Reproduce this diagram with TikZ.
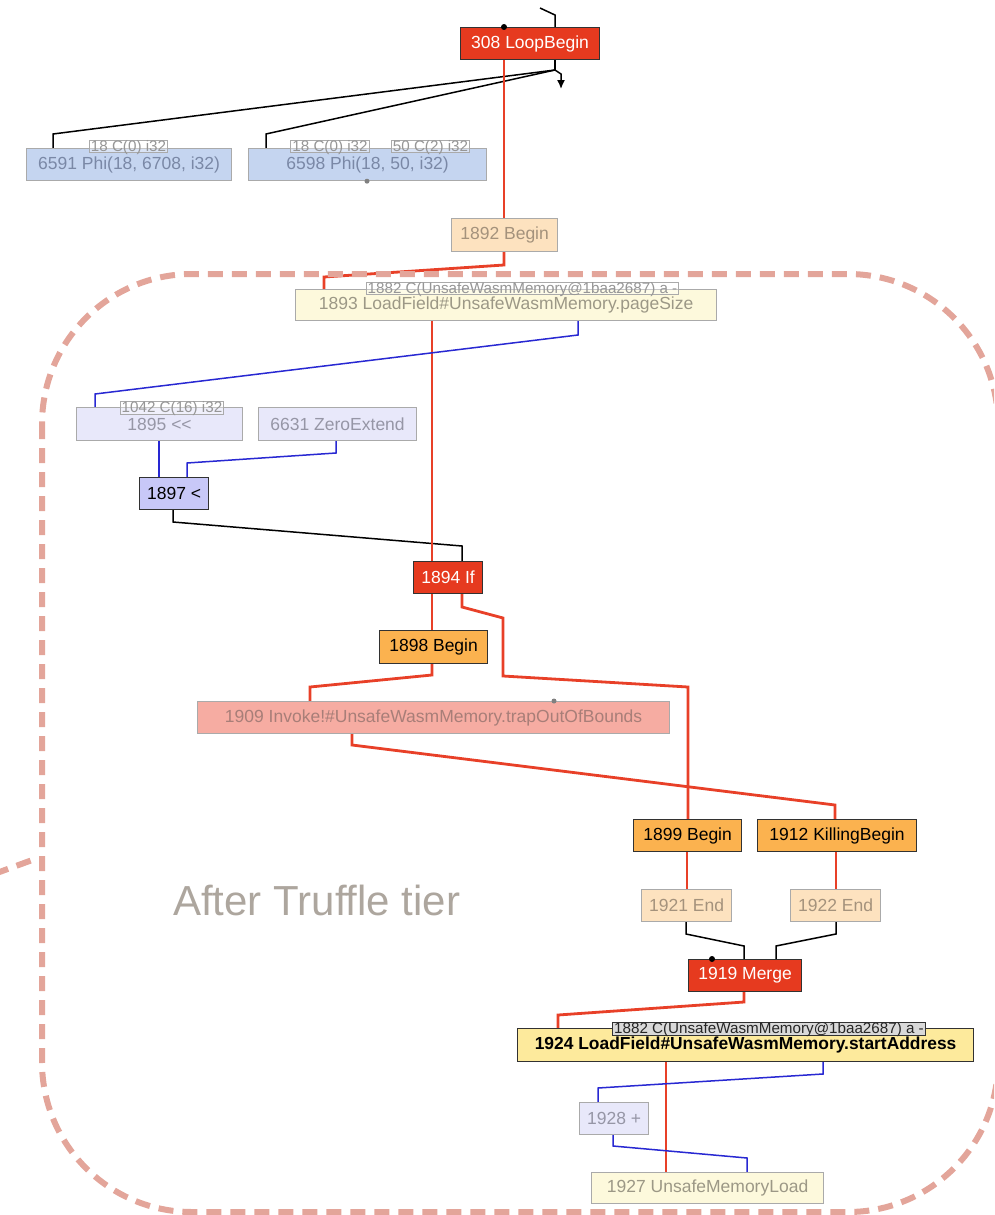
\documentclass[tikz,border=0pt]{standalone}
\usepackage{fontspec}
\setmainfont{Liberation Sans}
\usetikzlibrary{arrows.meta}

% node palette
\definecolor{nodered}{RGB}{230,58,31}
\definecolor{edgered}{RGB}{232,64,40}
\definecolor{edgeblue}{RGB}{40,40,210}
\definecolor{darkrim}{RGB}{50,50,50}
\definecolor{phifill}{RGB}{197,213,240}
\definecolor{phitext}{RGB}{122,136,166}
\definecolor{beginfill}{RGB}{253,226,191}
\definecolor{begintext}{RGB}{164,146,124}
\definecolor{loadfill}{RGB}{253,249,220}
\definecolor{loadtext}{RGB}{156,152,134}
\definecolor{lavfill}{RGB}{232,232,250}
\definecolor{lavtext}{RGB}{150,150,166}
\definecolor{lavstrong}{RGB}{200,200,248}
\definecolor{orangefill}{RGB}{251,178,79}
\definecolor{invfill}{RGB}{246,172,162}
\definecolor{invtext}{RGB}{168,126,120}
\definecolor{yellowfill}{RGB}{253,234,156}
\definecolor{fadedrim}{RGB}{170,170,170}
\definecolor{labeltext}{RGB}{150,150,150}
\definecolor{tiercol}{RGB}{227,165,154}
\definecolor{tiertext}{RGB}{173,166,158}

\pgfdeclarelayer{edges}
\pgfsetlayers{edges,main}

\tikzset{
  gbox/.style={draw, line width=1.2pt, inner sep=0pt, anchor=north west,
    font=\fontsize{17.5}{20}\selectfont},
  rednode/.style={gbox, draw=darkrim, fill=nodered, text=white},
  orangenode/.style={gbox, draw=darkrim, fill=orangefill, text=black},
  phinode/.style={gbox, draw=fadedrim, fill=phifill, text=phitext},
  beginnode/.style={gbox, draw=fadedrim, fill=beginfill, text=begintext},
  loadnode/.style={gbox, draw=fadedrim, fill=loadfill, text=loadtext},
  lavnode/.style={gbox, draw=fadedrim, fill=lavfill, text=lavtext},
  cmpnode/.style={gbox, draw=darkrim, fill=lavstrong, text=black},
  invnode/.style={gbox, draw=fadedrim, fill=invfill, text=invtext},
  fieldnode/.style={gbox, draw=darkrim, fill=yellowfill, text=black,
    font=\fontsize{17.4}{20}\selectfont\bfseries},
  inlabel/.style={draw=fadedrim, line width=1pt, fill=white, fill opacity=0.35,
    text opacity=1, text=labeltext, inner xsep=1.5pt, inner ysep=0pt,
    text height=10.8pt, text depth=1.8pt, font=\fontsize{15.2}{16}\selectfont},
  inlabelstrong/.style={inlabel, draw=darkrim, fill=gray!30, fill opacity=1,
    text=black!85},
  ctrl/.style={draw=edgered, line width=2.8pt},
  datal/.style={draw=edgeblue, line width=1.5pt},
  assoc/.style={draw=black, line width=1.5pt},
  tierline/.style={draw=tiercol, line width=6pt, dash pattern=on 15pt off 9pt},
  dotblack/.style={fill=black, draw=none},
  dotgray/.style={fill=gray, draw=none}
}

\begin{document}
\begin{tikzpicture}[x=1pt, y=-1pt]
\useasboundingbox (0,0) rectangle (994,1215);
\clip (0,0) rectangle (994,1215);

% ---- nodes ----
\node[rednode, minimum width=139pt, minimum height=32pt] (lb) at (460,27) {308 LoopBegin};
\node[phinode, minimum width=205pt, minimum height=32pt] (p1) at (26,148) {6591 Phi(18, 6708, i32)};
\node[phinode, minimum width=238pt, minimum height=32pt] (p2) at (248,148) {6598 Phi(18, 50, i32)};
\node[beginnode, minimum width=106pt, minimum height=33pt] (b1892) at (451,218) {1892 Begin};
\node[loadnode, minimum width=421pt, minimum height=31pt] (lf1) at (295,289) {1893 LoadField\#UnsafeWasmMemory.pageSize};
\node[lavnode, minimum width=166pt, minimum height=33pt] (sh) at (76,407) {1895 <{}<};
\node[lavnode, minimum width=158pt, minimum height=33pt] (ze) at (258,407) {6631 ZeroExtend};
\node[cmpnode, minimum width=69pt, minimum height=32pt] (lt) at (139,477) {1897 <};
\node[rednode, minimum width=69pt, minimum height=32pt] (if) at (413,561) {1894 If};
\node[orangenode, minimum width=108pt, minimum height=33pt] (b1898) at (379,630) {1898 Begin};
\node[invnode, minimum width=472pt, minimum height=32pt] (inv) at (197,701) {1909 Invoke!\#UnsafeWasmMemory.trapOutOfBounds};
\node[orangenode, minimum width=108pt, minimum height=32pt] (b1899) at (633,819) {1899 Begin};
\node[orangenode, minimum width=159pt, minimum height=32pt] (kb) at (757,819) {1912 KillingBegin};
\node[beginnode, minimum width=90pt, minimum height=32pt] (e1921) at (641,889) {1921 End};
\node[beginnode, minimum width=90pt, minimum height=32pt] (e1922) at (790,889) {1922 End};
\node[rednode, minimum width=113pt, minimum height=32pt] (mg) at (688,959) {1919 Merge};
\node[fieldnode, minimum width=456pt, minimum height=33pt] (lf2) at (517,1028) {1924 LoadField\#UnsafeWasmMemory.startAddress};
\node[lavnode, minimum width=69pt, minimum height=32pt] (add) at (579,1102) {1928 +};
\node[loadnode, minimum width=232pt, minimum height=31pt] (ml) at (591,1172) {1927 UnsafeMemoryLoad};

% ---- input labels sitting on the node tops ----
\node[inlabel] (c18a) at (128.5,146.5) {18 C(0) i32};
\node[inlabel] (c18b) at (330,146.5) {18 C(0) i32};
\node[inlabel] (c50) at (430.5,146.5) {50 C(2) i32};
\node[inlabel] (cmem1) at (522.5,288.5) {1882 C(UnsafeWasmMemory@1baa2687) a -};
\node[inlabel] (c1042) at (172,408) {1042 C(16) i32};
\node[inlabelstrong] (cmem2) at (769,1029) {1882 C(UnsafeWasmMemory@1baa2687) a -};

% ---- free ends and fan point ----
\coordinate (loopin) at (540,8);
\coordinate (loopout) at (561,89);
\coordinate (fan) at (555,70);

% ---- connectors, drawn under the nodes ----
\begin{pgfonlayer}{edges}
  % association edges
  \draw[assoc] (loopin) -- (555,15) -- (lb.north -| 555,0);
  \draw[assoc] (lb.south -| 555,0) -- (fan);
  \draw[assoc, -{Latex[length=9pt,width=8pt]}] (fan) -- (561,74) -- (loopout);
  \draw[assoc] (fan) -- (53,134) -- (p1.north -| 53,0);
  \draw[assoc] (fan) -- (266,134) -- (p2.north -| 266,0);
  \draw[assoc] (lt.south -| 173,0) -- (173,522) -- (462,546) -- (if.north -| 462,0);
  \draw[assoc] (e1921.south -| 686,0) -- (686,934) -- (744,946) -- (mg.north -| 744,0);
  \draw[assoc] (e1922.south -| 836,0) -- (836,934) -- (776,946) -- (mg.north -| 776,0);
  % control flow
  \draw[ctrl] (lb.south -| 504,0) -- (b1892.north -| 504,0);
  \draw[ctrl] (b1892.south -| 504,0) -- (504,265) -- (324,277) -- (lf1.north -| 324,0);
  \draw[ctrl] (lf1.south -| 432,0) -- (if.north -| 432,0);
  \draw[ctrl] (if.south -| 432,0) -- (b1898.north -| 432,0);
  \draw[ctrl] (if.south -| 462,0) -- (462,607) -- (503,618) -- (503,676) -- (688,687) -- (b1899.north -| 688,0);
  \draw[ctrl] (b1898.south -| 432,0) -- (432,675) -- (310,687) -- (inv.north -| 310,0);
  \draw[ctrl] (inv.south -| 352,0) -- (352,745) -- (835,805) -- (kb.north -| 835,0);
  \draw[ctrl] (b1899.south -| 687,0) -- (e1921.north -| 687,0);
  \draw[ctrl] (kb.south -| 836,0) -- (e1922.north -| 836,0);
  \draw[ctrl] (mg.south -| 744,0) -- (744,1002) -- (558,1015) -- (lf2.north -| 558,0);
  \draw[ctrl] (lf2.south -| 666,0) -- (ml.north -| 666,0);
  % data flow
  \draw[datal] (lf1.south -| 578,0) -- (578,335) -- (95,394) -- (sh.north -| 95,0);
  \draw[datal] (sh.south -| 159,0) -- (lt.north -| 159,0);
  \draw[datal] (ze.south -| 336,0) -- (336,453) -- (187,463) -- (lt.north -| 187,0);
  \draw[datal] (lf2.south -| 823,0) -- (823,1074) -- (598,1088) -- (add.north -| 598,0);
  \draw[datal] (add.south -| 613,0) -- (613,1146) -- (747,1158) -- (ml.north -| 747,0);
\end{pgfonlayer}

% ---- port dots ----
\fill[dotblack] (lb.north -| 504,0) circle (3pt);
\fill[dotblack] (mg.north -| 712,0) circle (3pt);
\fill[dotgray] (p2.south -| 367,0) circle (2.5pt);
\fill[dotgray] (inv.north -| 554,0) circle (2.5pt);

% ---- tier frame and caption ----
\draw[tierline, rounded corners=150pt] (42,274) rectangle (998,1212);
\draw[tierline] (-6,874) -- (35,859);
\node[anchor=base west, text=tiertext, inner sep=0pt,
  font=\fontsize{42}{46}\selectfont] (tier) at (173,915) {After Truffle tier};
\end{tikzpicture}
\end{document}
